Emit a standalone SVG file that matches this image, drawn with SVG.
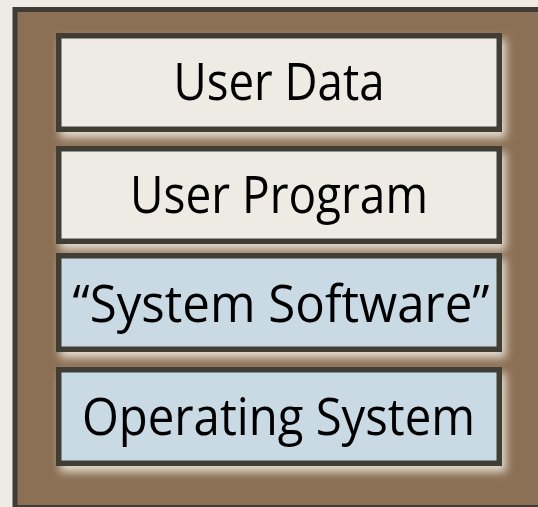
<svg xmlns="http://www.w3.org/2000/svg" width="538" height="507" viewBox="0 0 538 507">
  <defs>
    <!-- soft light halo cast down and to the right of each layer -->
    <filter id="glow" x="-10%" y="-20%" width="125%" height="150%">
      <feGaussianBlur in="SourceAlpha" stdDeviation="4" result="blur"/>
      <feOffset in="blur" dx="4" dy="6" result="off"/>
      <feFlood flood-color="#f2ece2" flood-opacity="0.85"/>
      <feComposite in2="off" operator="in" result="halo"/>
      <feMerge>
        <feMergeNode in="halo"/>
        <feMergeNode in="SourceGraphic"/>
      </feMerge>
    </filter>
    <style>
      .frame { fill: #8b7055; stroke: #3f3d35; stroke-width: 5; }
      .layer { stroke: #3f3d35; stroke-width: 5.5; filter: url(#glow); }
      .app { fill: #eeebe4; }
      .sys { fill: #c9dae5; }
      .label { font-family: "Open Sans", "Noto Sans", "DejaVu Sans", sans-serif; font-size: 51px; fill: #000; text-anchor: middle; }
    </style>
  </defs>

  <rect x="0" y="0" width="538" height="507" fill="#eeebe4"/>

  <!-- machine frame -->
  <rect class="frame" x="15" y="9.5" width="540" height="498"/>

  <g id="user-data">
    <rect class="layer app" x="58.75" y="35.75" width="440.5" height="93.5"/>
    <text class="label" x="279" y="100" textLength="211" lengthAdjust="spacingAndGlyphs">User Data</text>
  </g>

  <g id="user-program">
    <rect class="layer app" x="58.75" y="148.75" width="440.5" height="92.5"/>
    <text class="label" x="279" y="213" textLength="298" lengthAdjust="spacingAndGlyphs">User Program</text>
  </g>

  <g id="system-software">
    <rect class="layer sys" x="58.75" y="255.75" width="440.5" height="93.5"/>
    <text class="label" x="281" y="321.5" textLength="417" lengthAdjust="spacingAndGlyphs">“System Software”</text>
  </g>

  <g id="operating-system">
    <rect class="layer sys" x="58.75" y="369.75" width="440.5" height="93.5"/>
    <text class="label" x="278.5" y="435" textLength="393" lengthAdjust="spacingAndGlyphs">Operating System</text>
  </g>

  <g id="connectors"/>
</svg>
